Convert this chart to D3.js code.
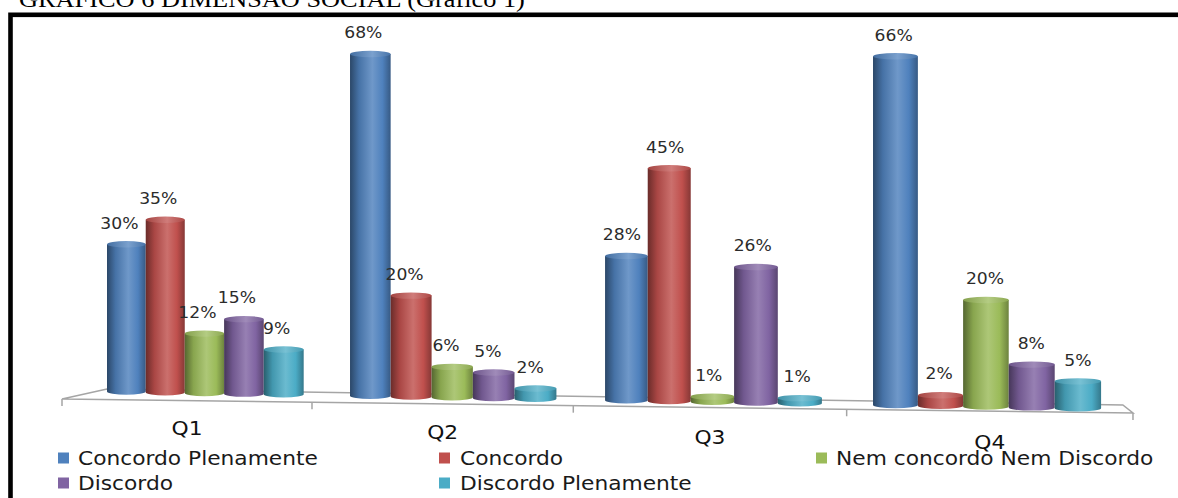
<!DOCTYPE html>
<html>
<head>
<meta charset="utf-8">
<script src="https://cdn.jsdelivr.net/npm/d3@7"></script>
<style>
  html, body { margin: 0; padding: 0; background: #fff; overflow: hidden; }
  svg { display: block; }
</style>
</head>
<body>
<svg id="chart" width="1178" height="498"></svg>
<script>
// ---- data ----
const chartTitle = "GRÁFICO 6 DIMENSÃO SOCIAL (Gráfico 1)";
const categories = ["Q1", "Q2", "Q3", "Q4"];
const seriesNames = ["Concordo Plenamente", "Concordo", "Nem concordo Nem Discordo", "Discordo", "Discordo Plenamente"];
const seriesColors = ["#4F81BD", "#C0504D", "#9BBB59", "#8064A2", "#4BACC6"];
const concordoPlenamente = [30, 68, 28, 66];
const concordo = [35, 20, 45, 2];
const nemConcordoNemDiscordo = [12, 6, 1, 20];
const discordo = [15, 5, 26, 8];
const discordoPlenamente = [9, 2, 1, 5];
const seriesValues = [concordoPlenamente, concordo, nemConcordoNemDiscordo, discordo, discordoPlenamente];

// ---- layout ----
const STRETCH = 1.145;           // wide lettering used throughout the chart
const SANS = "DejaVu Sans, Verdana, sans-serif";
const svg = d3.select("#chart");
const defs = svg.append("defs");

// category positions in floor units (one unit per category)
const outer = d3.scaleBand().domain(categories).range([0, categories.length])
  .paddingInner(0.187).paddingOuter(0.0935);
const inner = d3.scaleBand().domain(seriesNames).range([0, outer.bandwidth()]);
const t0 = outer(categories[0]);

// perspective: the floor turns toward the viewer on the right
const warp = (x0, a, c, origin) => t => x0 + a * (t - origin) / (1 + c * (t - origin));
const barX = warp(107, 237.3, -0.02355, t0);
const depth = t => 1 / (1 - 0.02355 * (t - t0));
const frontX = warp(62, 244.59, -0.02162, 0);
const backX = warp(107, 232.0, -0.02162, 0);

const height = d3.scaleLinear().domain([0, 100]).range([0, 490]);
const baseY = d3.scaleLinear().domain([126, 1078]).range([394.8, 411.4]);
const frontY = d3.scaleLinear().domain([62, 1133]).range([399, 413]);
const backY = d3.scaleLinear().domain([107, 1123]).range([389, 405]);
const catLabelY = d3.scaleLinear().domain([185, 988]).range([435, 449]);
const labelShift = d3.scaleLinear().domain([370, 1077]).range([-7, 0]).clamp(true);

function stretchedText(sel, x, y, str, size, anchor, fill, family) {
  return sel.append("text")
    .attr("transform", `translate(${x},${y}) scale(${STRETCH},1)`)
    .attr("text-anchor", anchor)
    .attr("font-family", family || SANS)
    .attr("font-size", size)
    .attr("fill", fill)
    .text(str);
}

// ---- title (runs off the top edge) and frame ----
stretchedText(svg, 19, 7, chartTitle, 23, "start", "#000", "Liberation Serif, Times New Roman, serif");
svg.append("rect")
  .attr("x", 10.5).attr("y", 14.8).attr("width", 1200).attr("height", 520)
  .attr("fill", "none").attr("stroke", "#000").attr("stroke-width", 4.6);

// ---- gradients for the cylinders ----
const mix = (c, target, k) => d3.interpolateRgb(c, target)(k);
seriesColors.forEach((c, i) => {
  const body = defs.append("linearGradient").attr("id", `body${i}`)
    .attr("x1", 0).attr("x2", 1).attr("y1", 0).attr("y2", 0);
  [[0, mix(c, "#000", 0.45)], [0.22, mix(c, "#000", 0.12)], [0.55, mix(c, "#fff", 0.18)],
   [0.8, c], [1, mix(c, "#000", 0.3)]]
    .forEach(([o, col]) => body.append("stop").attr("offset", o).attr("stop-color", col));
  const top = defs.append("linearGradient").attr("id", `top${i}`)
    .attr("x1", 0).attr("x2", 1).attr("y1", 0).attr("y2", 0);
  [[0, mix(c, "#000", 0.15)], [0.55, mix(c, "#fff", 0.25)], [1, mix(c, "#000", 0.1)]]
    .forEach(([o, col]) => top.append("stop").attr("offset", o).attr("stop-color", col));
});

// ---- floor ----
const floor = svg.append("g").attr("fill", "none").attr("stroke", "#a5a5a5").attr("stroke-width", 1.5);
const nCat = categories.length;
const bl = [backX(0), backY(backX(0))], br = [backX(nCat), backY(backX(nCat))];
const fl = [frontX(0), frontY(frontX(0))], fr = [frontX(nCat), frontY(frontX(nCat))];
floor.append("path").attr("fill", "#fff")
  .attr("d", `M${bl}L${fl}L${fr}L${br}Z`);
d3.range(nCat + 1).forEach(i => {
  const x = frontX(i), y = frontY(x);
  floor.append("line").attr("x1", x).attr("x2", x).attr("y1", y).attr("y2", y + 7);
});

// ---- cylinders ----
const RY = 3.2;
const bars = [];
categories.forEach((cat, ci) => {
  seriesNames.forEach((s, si) => {
    const tl = outer(cat) + inner(s), tr = tl + inner.bandwidth();
    const xl = barX(tl), xr = barX(tr);
    const cx = (xl + xr) / 2, rx = (xr - xl) / 2;
    const v = seriesValues[si][ci];
    const h = height(v) * depth((tl + tr) / 2);
    const yb = baseY(cx) - RY, yt = yb - h;
    bars.push({ si, v, xl, xr, cx, rx, yb, yt });
  });
});
const gBars = svg.append("g");
bars.forEach(b => {
  gBars.append("path")
    .attr("fill", `url(#body${b.si})`)
    .attr("d", `M${b.xl},${b.yt}L${b.xl},${b.yb}A${b.rx},${RY} 0 0 0 ${b.xr},${b.yb}L${b.xr},${b.yt}Z`);
  gBars.append("ellipse")
    .attr("cx", b.cx).attr("cy", b.yt).attr("rx", b.rx).attr("ry", RY)
    .attr("fill", `url(#top${b.si})`);
});

// ---- value labels ----
const gLabels = svg.append("g");
bars.forEach(b => {
  stretchedText(gLabels, b.cx + labelShift(b.cx), b.yt - RY - 12.5, `${b.v}%`, 15, "middle", "#2b2b2b");
});

// ---- category labels ----
categories.forEach((cat, i) => {
  const x = (frontX(i) + frontX(i + 1)) / 2;
  stretchedText(svg, x, catLabelY(x), cat, 19, "middle", "#111");
});

// ---- legend ----
const legendCols = [[58, 78], [439, 460], [816, 836]];
const legendRows = [458, 483];
seriesNames.forEach((s, i) => {
  const col = legendCols[i % 3], row = legendRows[Math.floor(i / 3)];
  svg.append("rect").attr("x", col[0]).attr("y", row - 5.5).attr("width", 11).attr("height", 11)
    .attr("fill", seriesColors[i]);
  stretchedText(svg, col[1], row + 7, s, 19, "start", "#1a1a1a");
});
</script>
</body>
</html>
